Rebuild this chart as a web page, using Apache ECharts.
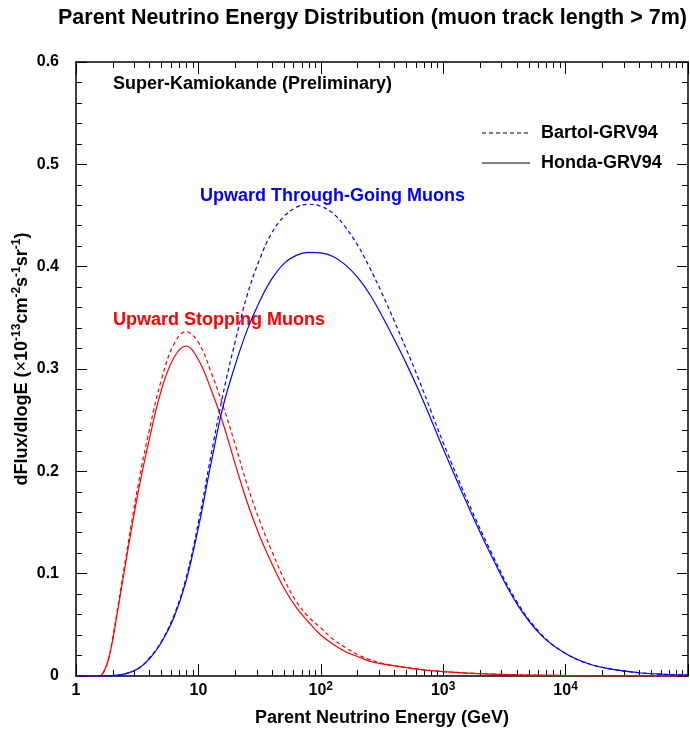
<!DOCTYPE html>
<html>
<head>
<meta charset="utf-8">
<title>Parent Neutrino Energy Distribution</title>
<script src="https://cdn.jsdelivr.net/npm/echarts@6.0.0/dist/echarts.min.js"></script>
<style>
  html, body { margin: 0; padding: 0; background: #fff; }
  #main { width: 690px; height: 729px; }
</style>
</head>
<body>
<div id="main"></div>
<script>
// parent neutrino energy (GeV)
var energy = [1, 1.55, 1.7, 1.85, 2, 2.5, 3.2, 4, 5, 6.3, 7.9, 10, 12.6, 15.8, 20, 25, 31.6, 39.8, 50, 63, 79,
  100, 126, 158, 200, 251, 316, 398, 501, 631, 794, 1000, 1585, 2512, 3981, 6310, 10000, 15850, 25120, 39810, 63100, 100000]

// upward stopping muons
var stopHonda = [0, 0, 0.005, 0.017, 0.036, 0.105, 0.178, 0.233, 0.280, 0.311, 0.3225, 0.309, 0.281, 0.248, 0.207, 0.170, 0.137, 0.110, 0.086, 0.067, 0.053,
  0.040, 0.031, 0.024, 0.019, 0.0145, 0.0118, 0.0100, 0.0082, 0.0065, 0.0052, 0.0042, 0.0028, 0.0018, 0.0011, 0.0007, 0.0005, 0.0003, 0.0002, 0.0001, 0.0001, 0]
var stopBartol = [0, 0, 0.005, 0.018, 0.038, 0.109, 0.185, 0.242, 0.290, 0.324, 0.3365, 0.326, 0.298, 0.265, 0.226, 0.187, 0.152, 0.122, 0.095, 0.073, 0.058,
  0.047, 0.036, 0.028, 0.021, 0.016, 0.0125, 0.0102, 0.0084, 0.0067, 0.0054, 0.0043, 0.0029, 0.0019, 0.0012, 0.0008, 0.0005, 0.0003, 0.0002, 0.0001, 0.0001, 0]

// upward through-going muons
var thruHonda = [0, 0, 0, 0, 0.0005, 0.002, 0.007, 0.017, 0.033, 0.057, 0.092, 0.145, 0.206, 0.262, 0.304, 0.338, 0.366, 0.388, 0.403, 0.411, 0.414,
  0.4135, 0.410, 0.402, 0.3895, 0.373, 0.352, 0.329, 0.305, 0.279, 0.251, 0.222, 0.167, 0.116, 0.071, 0.040, 0.022, 0.0115, 0.0062, 0.0032, 0.0017, 0.001]
var thruBartol = [0, 0, 0, 0, 0.0005, 0.002, 0.007, 0.018, 0.034, 0.059, 0.095, 0.150, 0.214, 0.274, 0.327, 0.372, 0.407, 0.433, 0.449, 0.458, 0.461,
  0.459, 0.452, 0.439, 0.421, 0.399, 0.374, 0.347, 0.319, 0.290, 0.259, 0.228, 0.171, 0.119, 0.073, 0.041, 0.022, 0.0115, 0.0062, 0.0032, 0.0017, 0.001]

var yTicks = ['0', '0.1', '0.2', '0.3', '0.4', '0.5', '0.6']

var font = '"Liberation Sans", Arial, Helvetica, sans-serif'

// short log ticks 2..9 per decade, placed on a linear log10 axis
var minorLog = []
for (var k = 0; k < 5; k++) {
  for (var m = 2; m <= 9; m++) minorLog.push(k + Math.log10(m))
}

function pairs(vals) {
  return energy.map(function (e, i) { return [e, vals[i]] })
}

var myChart = echarts.init(document.getElementById('main'))

function frameLine() {
  return { show: true, onZero: false, lineStyle: { color: '#000', width: 1.5 } }
}
function majorTick() {
  return { show: true, inside: true, length: 12, lineStyle: { color: '#000', width: 1 } }
}
function minorAxis(pos) {
  return {
    type: 'value', min: 0, max: 5, position: pos,
    axisLine: { show: false, onZero: false },
    axisLabel: { show: false },
    splitLine: { show: false },
    axisTick: { show: true, inside: true, length: 6, customValues: minorLog, lineStyle: { color: '#000', width: 1 } }
  }
}
function yAxisBase(pos) {
  return {
    type: 'value', min: 0, max: 0.6, interval: 0.1, position: pos,
    axisLine: frameLine(),
    axisTick: { show: true, inside: true, length: 11, lineStyle: { color: '#000', width: 1 } },
    minorTick: { show: true, splitNumber: 5, length: 6, lineStyle: { color: '#000', width: 1 } },
    splitLine: { show: false }
  }
}

var yLeft = yAxisBase('left')
yLeft.name = 'dFlux/dlogE ({x|×}10{s|-13}cm{s|-2}s{s|-1}sr{s|-1})'
yLeft.nameLocation = 'middle'
yLeft.nameRotate = 90
yLeft.nameGap = 43
yLeft.nameMoveOverlap = false
yLeft.nameTextStyle = {
  fontFamily: font, fontSize: 18, fontWeight: 'bold', color: '#000', lineHeight: 22,
  padding: [0, 0, 0, 20],
  rich: {
    s: { fontFamily: font, fontSize: 12, fontWeight: 'bold', verticalAlign: 'top', lineHeight: 10 },
    x: { fontFamily: font, fontSize: 18, fontWeight: 'normal', lineHeight: 22 }
  }
}
yLeft.axisLabel = {
  margin: 17, color: '#000', fontFamily: font, fontSize: 16, fontWeight: 'bold',
  formatter: function (v) { return yTicks[Math.round(v * 10)] }
}
var yRight = yAxisBase('right')
yRight.axisLabel = { show: false }

var option = {
  backgroundColor: '#fff',
  animation: false,
  title: {
    text: 'Parent Neutrino Energy Distribution (muon track length > 7m)',
    left: 53, top: 2,
    textStyle: { fontFamily: font, fontSize: 21.5, fontWeight: 'bold', color: '#000' }
  },
  grid: { left: 76, right: 2, top: 62, bottom: 53, containLabel: false, outerBoundsMode: 'none' },
  xAxis: [
    {
      type: 'log', logBase: 10, min: 1, max: 100000, position: 'bottom',
      axisLine: frameLine(),
      axisTick: majorTick(),
      splitLine: { show: false },
      name: 'Parent Neutrino Energy (GeV)',
      nameLocation: 'middle', nameGap: 33,
      nameTextStyle: { fontFamily: font, fontSize: 18, fontWeight: 'bold', color: '#000' },
      axisLabel: {
        margin: 5, color: '#000', fontFamily: font, fontSize: 16, fontWeight: 'bold', lineHeight: 20,
        formatter: function (v) {
          var p = Math.round(Math.log10(v))
          if (p >= 5) return ''
          if (p === 0) return '1'
          if (p === 1) return '10'
          return '10{sup|' + p + '}'
        },
        rich: { sup: { fontFamily: font, fontSize: 12, fontWeight: 'bold', verticalAlign: 'top', lineHeight: 10 } }
      }
    },
    // top frame with decade ticks (log10 units)
    {
      type: 'value', min: 0, max: 5, interval: 1, position: 'top',
      axisLine: frameLine(),
      axisTick: majorTick(),
      axisLabel: { show: false },
      splitLine: { show: false }
    },
    minorAxis('bottom'),
    minorAxis('top')
  ],
  yAxis: [yLeft, yRight],
  graphic: [
    { type: 'text', x: 113, y: 84, style: { text: 'Super-Kamiokande (Preliminary)', font: 'bold 18px ' + font, fill: '#000', verticalAlign: 'middle' } },
    { type: 'text', x: 200, y: 196, style: { text: 'Upward Through-Going Muons', font: 'bold 18px ' + font, fill: '#0000ff', verticalAlign: 'middle' } },
    { type: 'text', x: 113, y: 320, style: { text: 'Upward Stopping Muons', font: 'bold 18px ' + font, fill: '#ff0000', verticalAlign: 'middle' } },
    // legend
    { type: 'line', shape: { x1: 482, y1: 133, x2: 528, y2: 133 }, style: { stroke: '#000', lineWidth: 1, lineDash: [4, 3] } },
    { type: 'text', x: 541, y: 133, style: { text: 'Bartol-GRV94', font: 'bold 18px ' + font, fill: '#000', verticalAlign: 'middle' } },
    { type: 'line', shape: { x1: 482, y1: 163, x2: 530, y2: 163 }, style: { stroke: '#000', lineWidth: 1 } },
    { type: 'text', x: 541, y: 163, style: { text: 'Honda-GRV94', font: 'bold 18px ' + font, fill: '#000', verticalAlign: 'middle' } }
  ],
  series: [
    { name: 'Stopping Bartol', type: 'line', data: pairs(stopBartol), smooth: 0.4, symbol: 'none',
      lineStyle: { color: '#ff0000', width: 1.2, type: [4, 3] } },
    { name: 'Stopping Honda', type: 'line', data: pairs(stopHonda), smooth: 0.4, symbol: 'none',
      lineStyle: { color: '#ff0000', width: 1.2 } },
    { name: 'Through Bartol', type: 'line', data: pairs(thruBartol), smooth: 0.4, symbol: 'none',
      lineStyle: { color: '#0000ff', width: 1.2, type: [4, 3] } },
    { name: 'Through Honda', type: 'line', data: pairs(thruHonda), smooth: 0.4, symbol: 'none',
      lineStyle: { color: '#0000ff', width: 1.2 } }
  ]
}

myChart.setOption(option)
</script>
</body>
</html>
